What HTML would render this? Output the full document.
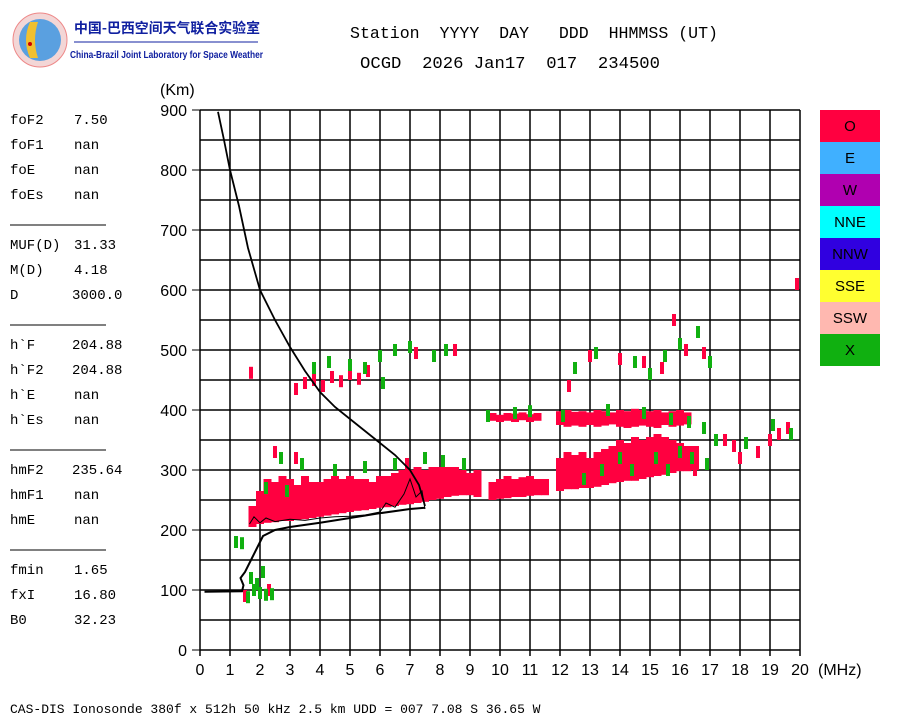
<!DOCTYPE html>
<html><head><meta charset="utf-8"><style>
body{margin:0;background:#fff;width:900px;height:720px;overflow:hidden;font-family:"Liberation Sans","Noto Sans CJK SC",sans-serif}
</style></head><body>
<svg id="c" width="900" height="720" xmlns="http://www.w3.org/2000/svg">
<g>
<circle cx="40" cy="40" r="27" fill="#f3d6d6" stroke="#e88" stroke-width="1"/>
<circle cx="40" cy="40" r="21" fill="#5aa0e0"/>
<path d="M30 22 Q22 40 30 58 L38 58 Q32 40 38 22 Z" fill="#f0c030"/>
<circle cx="30" cy="44" r="2" fill="#c00"/>
<text x="74" y="33" font-size="14" fill="#1020a0" font-family="'Noto Sans CJK SC',sans-serif" font-weight="bold" textLength="186" lengthAdjust="spacingAndGlyphs">中国-巴西空间天气联合实验室</text>
<line x1="74" y1="42" x2="258" y2="42" stroke="#1020a0" stroke-width="1"/>
<text x="70" y="58" font-size="10" fill="#1020a0" font-weight="bold" textLength="193" lengthAdjust="spacingAndGlyphs">China-Brazil Joint Laboratory for Space Weather</text>
</g>
<g font-family="'Liberation Mono',monospace" font-size="17" fill="#000">
<text x="350" y="38" xml:space="preserve" textLength="368" lengthAdjust="spacingAndGlyphs">Station  YYYY  DAY   DDD  HHMMSS (UT)</text>
<text x="360" y="68" xml:space="preserve" textLength="300" lengthAdjust="spacingAndGlyphs">OCGD  2026 Jan17  017  234500</text>
</g>
<g id="left" font-family="'Liberation Mono',monospace" font-size="14" fill="#000"></g>
<g id="grid"></g>
<g id="marks"></g>
<g id="curves"></g>
<g id="axes" font-size="16" fill="#000"></g>
<g id="legend" font-size="15"></g>
<text x="10" y="713" font-family="'Liberation Mono',monospace" font-size="13">CAS-DIS Ionosonde 380f x 512h 50 kHz 2.5 km UDD = 007 7.08 S 36.65 W</text>
</svg>
<script>
const NS="http://www.w3.org/2000/svg";
const xTicks=[0,1,2,3,4,5,6,7,8,9,10,11,12,13,14,15,16,17,18,19,20];
const yTicks=[0,100,200,300,400,500,600,700,800,900];
const bandFreq=[1.75,2,2.25,2.5,2.75,3,3.25,3.5,3.75,4,4.25,4.5,4.75,5,5.25,5.5,5.75,6,6.25,6.5,6.75,7,7.25,7.5,7.75,8,8.25,8.5,8.75,9,9.25,9.75,10,10.25,10.5,10.75,11,11.25,11.5,12,12.25,12.5,12.75,13,13.25,13.5,13.75,14,14.25,14.5,14.75,15,15.25,15.5,15.75,16,16.25,16.5];
const bandLo=[205,210,212,213,215,215,217,218,220,222,224,226,228,230,232,233,235,237,238,240,242,243,245,247,250,252,255,257,258,258,255,250,252,253,255,255,257,258,258,265,268,268,270,270,272,275,278,280,282,282,285,288,290,292,295,298,298,300];
const bandHi=[240,265,285,280,290,285,275,290,280,280,285,290,285,290,285,285,280,290,290,295,300,300,305,300,305,305,305,305,300,295,300,280,285,290,285,288,290,285,285,320,330,325,330,320,330,335,340,350,345,355,350,355,360,355,350,345,340,340];
const upFreq=[9.75,10,10.25,10.5,10.75,11,11.25,12,12.25,12.5,12.75,13,13.25,13.5,13.75,14,14.25,14.5,14.75,15,15.25,15.5,15.75,16,16.25];
const upLo=[382,380,382,380,383,380,382,375,372,374,372,375,372,374,376,372,370,372,374,372,370,375,372,374,376];
const upHi=[395,392,395,394,396,393,395,398,400,397,398,396,400,398,396,400,398,402,400,398,400,396,398,400,396];
const redPts=[[3.2,435],[3.5,445],[3.8,450],[4.1,440],[4.4,455],[4.7,448],[5,460],[5.3,452],[5.6,465],[1.7,462],[7.2,495],[8.5,500],[13,490],[14,485],[14.8,480],[15.4,470],[15.8,550],[16.2,500],[16.8,495],[19.9,610],[17.5,350],[18,320],[18.6,330],[19,350],[19.3,360],[19.6,370],[17.8,340],[2.5,330],[3.2,320],[2.3,100],[1.5,90],[6.9,310],[12.3,440],[14.6,330],[16.5,300]];
const grnPts=[[1.2,180],[1.4,178],[1.7,120],[1.9,110],[2,95],[2.2,92],[2.4,93],[1.6,88],[1.8,100],[2.1,130],[3.8,470],[4.3,480],[5,475],[5.5,470],[6,490],[6.5,500],[7,505],[7.8,490],[8.2,500],[12.5,470],[13.2,495],[14.5,480],[15,460],[15.5,490],[16,510],[16.6,530],[17,480],[9.6,390],[10.5,395],[11,398],[12.1,390],[13.6,400],[14.8,395],[15.7,385],[16.3,380],[16.8,370],[17.2,350],[18.2,345],[19.1,375],[19.7,360],[2.7,320],[3.4,310],[4.5,300],[5.5,305],[6.5,310],[7.5,320],[8.1,315],[8.8,310],[12.8,285],[13.4,300],[14,320],[14.4,300],[15.2,320],[15.6,300],[16,330],[16.4,320],[16.9,310],[6.1,445],[2.2,270],[2.9,265]];
const vhF=[0.15,1.4,1.45,1.35,1.5,1.7,1.9,2.1,2.5,3,4,5,6,7,7.5];
const vhH=[97,98,108,120,130,150,170,190,200,205,212,220,228,235,237];
const xF=[0.6,0.8,1,1.3,1.6,2,2.5,3,3.5,4,4.5,5,5.5,6,6.5,7,7.3,7.5];
const xH=[897,850,800,740,670,600,550,505,465,430,405,385,365,345,325,300,275,240];
const thF=[1.65,1.8,2,2.2,2.5,3,3.5,4,4.5,5,5.5,6,6.2,6.5,6.8,7,7.2,7.4,7.5];
const thH=[210,222,212,220,214,218,216,220,222,223,225,230,245,238,260,285,255,265,235];
const legendNames=["O","E","W","NNE","NNW","SSE","SSW","X"];
const legendColors=["#ff0040","#40b0ff","#b000b0","#00ffff","#3000e0","#ffff30","#ffb8b0","#10b010"];
const leftLabels=[["foF2","7.50",118],["foF1","nan",143],["foE","nan",168],["foEs","nan",193],["MUF(D)","31.33",243],["M(D)","4.18",268],["D","3000.0",293],["h`F","204.88",343],["h`F2","204.88",368],["h`E","nan",393],["h`Es","nan",418],["hmF2","235.64",468],["hmF1","nan",493],["hmE","nan",518],["fmin","1.65",568],["fxI","16.80",593],["B0","32.23",618]];
const X=f=>200+f*30, Y=h=>650-h*0.6;
function el(t,a,p){const e=document.createElementNS(NS,t);for(const k in a)e.setAttribute(k,a[k]);p.appendChild(e);return e;}
const G=document.getElementById('grid'),M=document.getElementById('marks'),C=document.getElementById('curves'),A=document.getElementById('axes'),L=document.getElementById('legend'),P=document.getElementById('left');
leftLabels.forEach(r=>{const t=el('text',{x:10,y:r[2]+6},P);t.textContent=r[0];


const v=el('text',{x:r[1].length>5?72:74,y:r[2]+6},P);v.textContent=r[1];

});
[225,325,450,550].forEach(y=>{const l=el('line',{x1:10,x2:106,y1:y,y2:y,stroke:'#000','stroke-width':1},P);

});
for(let h=0;h<=900;h+=50){const l=el('line',{x1:200,x2:800,y1:Y(h),y2:Y(h),stroke:'#000','stroke-width':1.5},G);

}
xTicks.forEach(f=>{const l=el('line',{x1:X(f),x2:X(f),y1:110,y2:656,stroke:'#000','stroke-width':1.5},G);


const t=el('text',{x:X(f),y:675,'text-anchor':'middle'},A);t.textContent=f;

});
yTicks.forEach(h=>{const l=el('line',{x1:192,x2:200,y1:Y(h),y2:Y(h),stroke:'#000','stroke-width':1},A);


const t=el('text',{x:187,y:Y(h)+6,'text-anchor':'end'},A);t.textContent=h;

});
let t1=el('text',{x:160,y:95},A);t1.textContent="(Km)";


let t2=el('text',{x:818,y:675},A);t2.textContent="(MHz)";


bandFreq.forEach((f,i)=>{const r=el('rect',{x:X(f)-4,y:Y(bandHi[i]),width:8,height:Y(bandLo[i])-Y(bandHi[i]),fill:'#ff0040'},M);

});
upFreq.forEach((f,i)=>{const r=el('rect',{x:X(f)-4,y:Y(upHi[i]),width:8,height:Y(upLo[i])-Y(upHi[i]),fill:'#ff0040'},M);

});
redPts.forEach(p=>{const r=el('rect',{x:X(p[0])-2,y:Y(p[1])-6,width:4,height:12,fill:'#ff0040'},M);

});
grnPts.forEach(p=>{const r=el('rect',{x:X(p[0])-2,y:Y(p[1])-6,width:4,height:12,fill:'#10b010'},M);

});
function poly(fs,hs,w,name){const p=el('polyline',{points:fs.map((f,i)=>X(f)+','+Y(hs[i])).join(' '),fill:'none',stroke:'#000','stroke-width':w},C);

}
poly(vhF,vhH,2,'virtual-height-curve');
poly(xF,xH,1.8,'profile-upper-curve');
poly(thF,thH,1,'trace-center-line');
legendNames.forEach((n,i)=>{const r=el('rect',{x:820,y:110+i*32,width:60,height:32,fill:legendColors[i]},L);


const t=el('text',{x:850,y:131+i*32,'text-anchor':'middle',fill:'#000'},L);t.textContent=n;

});
</script>
</body></html>
